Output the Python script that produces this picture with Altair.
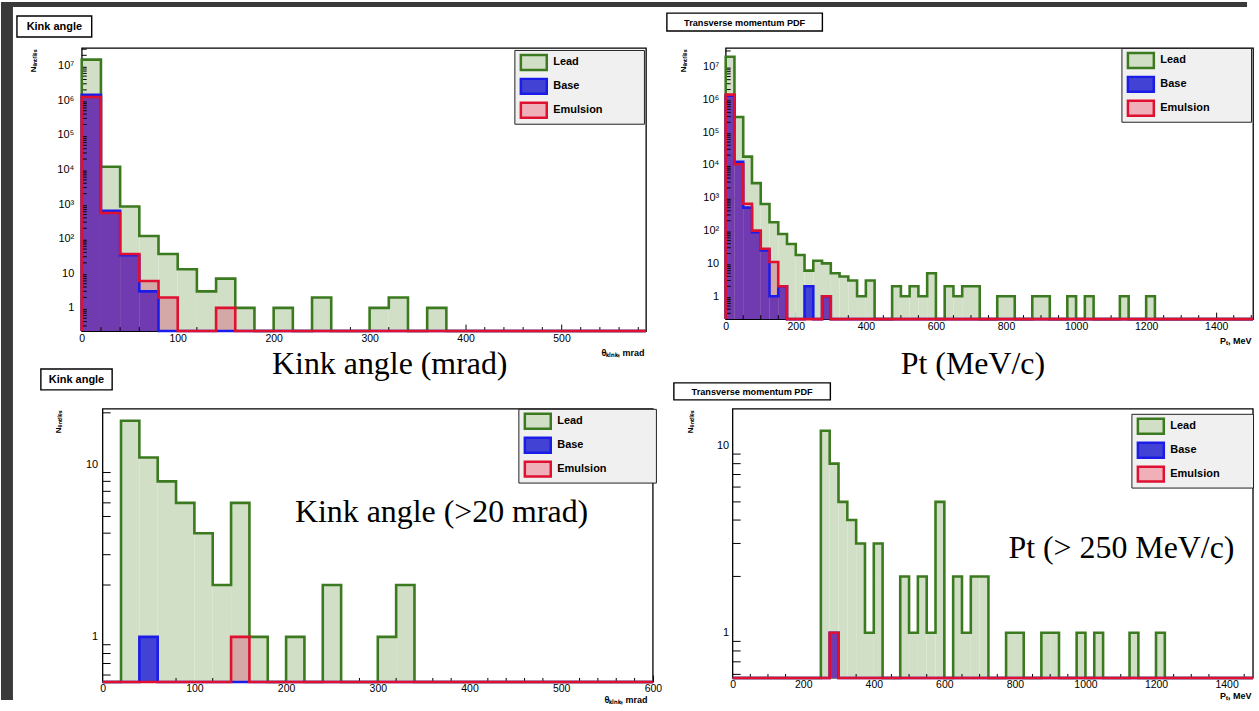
import math
import altair as alt
import pandas as pd

SERIES = ["Lead", "Base", "Emulsion"]

# ---------------- top-left: kink angle, 20 mrad bins from 0
kink_bin = 20
kink_lead = [1.5e7, 1.2e4, 850, 120, 36, 13, 3, 7, 1, 0, 1, 0, 2, 0, 0, 1, 2, 0, 1]
kink_base = [1.45e6, 640, 33, 3]
kink_emul = [1.25e6, 550, 36, 6, 2, 0, 0, 1]

# ---------------- top-right: transverse momentum, 25 MeV bins from 0
pt_bin = 25
pt_lead = [2.0e7, 2.9e5, 1.8e4, 2.8e3, 650, 180, 79, 39, 18, 6, 12, 10, 5, 4, 3, 1, 3,
           0, 0, 2, 1, 2, 1, 5, 0, 2, 1, 2, 2, 0, 0, 1, 1, 0, 0, 1, 1, 0, 0, 1, 0, 1,
           0, 0, 0, 1, 0, 0, 1]
pt_base = [1.3e6, 1.25e4, 500, 90, 25, 1, 2, 0, 0, 2, 0, 1]
pt_emul = [1.4e6, 1.05e4, 660, 100, 28, 11, 2, 0, 0, 0, 0, 1]

# ---------------- bottom-left: kink angle > 20 mrad
kcut_lead = [0, 18, 11, 8, 6, 4, 2, 6, 1, 0, 1, 0, 2, 0, 0, 1, 2]
kcut_base = [0, 0, 1]
kcut_emul = [0, 0, 0, 0, 0, 0, 0, 1]

# ---------------- bottom-right: Pt > 250 MeV/c
ptcut_lead = [0, 0, 0, 0, 0, 0, 0, 0, 0, 0, 12, 8, 5, 4, 3, 1, 3, 0, 0, 2, 1, 2, 1, 5,
              0, 2, 1, 2, 2, 0, 0, 1, 1, 0, 0, 1, 1, 0, 0, 1, 0, 1, 0, 0, 0, 1, 0, 0, 1]
ptcut_base = [0, 0, 0, 0, 0, 0, 0, 0, 0, 0, 0, 1]
ptcut_emul = [0, 0, 0, 0, 0, 0, 0, 0, 0, 0, 0, 1]

kink_ticks = [0, 100, 200, 300, 400, 500]
kcut_ticks = [0, 100, 200, 300, 400, 500, 600]
pt_ticks = [0, 200, 400, 600, 800, 1000, 1200, 1400]
decades_full = [1, 10, 100, 1e3, 1e4, 1e5, 1e6, 1e7]
decades_cut = [1, 10]
minor_mult = [2, 3, 4, 5, 6, 7, 8, 9]

SANS = "Liberation Sans, Arial, sans-serif"
SERIF = "Liberation Serif, Times New Roman, serif"
DARK = "#3a3a3a"
FILL = {"Lead": "#d2dfc7", "Base": "#4242d4", "Emulsion": "#dc2a5c"}
FILL_OP = {"Lead": 1.0, "Base": 1.0, "Emulsion": 0.30}
LINE = {"Lead": "#3c7a20", "Base": "#1c1ce8", "Emulsion": "#df1030"}
LEG_FILL = ["#d2dfc7", "#4242d4", "#efb0ba"]
SWATCH = "M-1.3,-0.75H1.3V0.75H-1.3Z"
SUP = str.maketrans("0123456789", "⁰¹²³⁴⁵⁶⁷⁸⁹")
PAD_CHAR = "\u2800"  # blank (non-whitespace) glyph used to widen the legend box


def decade_expr(vals):
    expr = "''"
    for v in sorted(vals, reverse=True):
        n = round(math.log10(v))
        lab = "1" if n == 0 else ("10" if n == 1 else "10" + str(n).translate(SUP))
        expr = f"datum.value < {v * 3} ? '{lab}' : ({expr})"
    return expr


def make_legend(x, y, nsp):
    return alt.Legend(
        orient="none", legendX=x, legendY=y, title=None, direction="vertical",
        fillColor="#f0f0f0", strokeColor="#222222", padding=1, rowPadding=-6,
        symbolOffset=7, labelOffset=8, symbolType=SWATCH, symbolSize=400,
        symbolStrokeWidth=2.5, labelFont=SANS, labelFontSize=11,
        labelFontWeight="bold", labelColor="black", labelLimit=300,
        labelExpr="datum.label + '" + PAD_CHAR * nsp + "'",
    )


def panel(counts, bw, xdom, x0px, ydom, w, h, xticks, xminor_step, yticks, ytick, yminor_len,
          ylabpad, ytitle_x, xtitle, xtitle_dx, xtitle_y, title, tbox, tfs, big, big_xy,
          leg_xy, nsp, frame_mark):
    bars, lines = [], []
    for s, cs in zip(SERIES, counts):
        lines.append(dict(s=s, o=0, lo=0, v=0))
        for i, c in enumerate(cs):
            lo = i * bw
            if c > 0:
                bars.append(dict(s=s, lo=lo, hi=lo + bw, v=c))
            lines.append(dict(s=s, o=i + 1, lo=lo, v=c))
        lines.append(dict(s=s, o=len(cs) + 1, lo=len(cs) * bw, v=0))
        lines.append(dict(s=s, o=len(cs) + 2, lo=xdom[1], v=0))
    bars_df = pd.DataFrame(bars)
    lines_df = pd.DataFrame(lines)
    xminor_df = pd.DataFrame({"t": [t for t in range(0, int(xdom[1]) + 1, xminor_step)
                                    if t not in xticks]})
    yminor_df = pd.DataFrame({"t": [m * d for d in yticks + [yticks[0] / 10] for m in minor_mult
                                    if ydom[0] < m * d < ydom[1]]})

    xs = alt.Scale(domain=list(xdom), nice=False, zero=False)
    ys = alt.Scale(type="log", domain=list(ydom), nice=False, clamp=True)
    xtick = 7
    xaxis = alt.Axis(
        orient="bottom", values=xticks, format="d", labelFont=SANS, labelFontSize=10.5,
        labelColor="black", labelPadding=2, labelFlush=False, labelOverlap=False,
        tickSize=xtick, tickColor="black", tickWidth=1, offset=-xtick, domain=False,
        grid=False, title=xtitle, titleFont=SANS, titleFontSize=9, titleFontWeight="bold",
        titleColor="black", titleAlign="right", titleBaseline="middle",
        titleX=w - xtitle_dx, titleY=xtitle_y,
    )
    yoff = x0px + ytick
    yaxis = alt.Axis(
        orient="left", values=yticks, labelExpr=decade_expr(yticks), labelFont=SANS,
        labelFontSize=11, labelColor="black", labelPadding=ylabpad, labelOverlap=False,
        tickSize=ytick, tickColor="black", tickWidth=1, offset=-yoff, domain=False,
        grid=False, title="Nₑₙₜᵣᵢₑₛ", titleFont=SANS, titleFontSize=8,
        titleFontWeight="bold", titleColor="black", titleAngle=270, titleAlign="right",
        titleBaseline="middle", titleX=ytitle_x - yoff, titleY=2,
    )

    def X(field):
        return alt.X(field, scale=xs, axis=xaxis)

    def Y(field):
        return alt.Y(field, scale=ys, axis=yaxis)

    layers = []
    if frame_mark:
        frame_df = pd.DataFrame({"a": [xdom[1]]})
        layers.append(
            alt.Chart(frame_df).mark_rect(fill="white", stroke="black", strokeWidth=1.3).encode(
                x=alt.X(datum=0, scale=xs, axis=xaxis), x2=alt.datum(xdom[1]),
                y=alt.Y(datum=ydom[1], scale=ys, axis=yaxis), y2=alt.datum(ydom[0]),
            )
        )
    for s in SERIES:
        layers.append(
            alt.Chart(bars_df).transform_filter(alt.datum.s == s)
            .mark_rect(fill=FILL[s], fillOpacity=FILL_OP[s])
            .encode(x=X("lo:Q"), x2="hi:Q", y=Y("v:Q"), y2=alt.datum(ydom[0]))
        )
    # minor ticks (ROOT style, pointing inward)
    layers.append(
        alt.Chart(xminor_df).mark_rule(color="black", strokeWidth=1).encode(
            x=X("t:Q"), y=alt.value(h), y2=alt.value(h - 4))
    )
    layers.append(
        alt.Chart(yminor_df).mark_rule(color="black", strokeWidth=1).encode(
            y=Y("t:Q"), x=alt.value(x0px), x2=alt.value(x0px + yminor_len))
    )
    for s in SERIES:
        layers.append(
            alt.Chart(lines_df).transform_filter(alt.datum.s == s)
            .transform_calculate(yv=f"max(datum.v, {ydom[0]})")
            .mark_line(interpolate="step-after", color=LINE[s], strokeWidth=2.6)
            .encode(x=X("lo:Q"), y=Y("yv:Q"), order="o:Q")
        )
    leg = make_legend(leg_xy[0], leg_xy[1], nsp)
    layers.append(
        alt.Chart(alt.Data(values=[])).mark_point(
            shape=SWATCH, filled=True, size=400, strokeWidth=2.5, opacity=1
        ).encode(
            fill=alt.Fill("s:N", scale=alt.Scale(domain=SERIES, range=LEG_FILL), legend=leg),
            stroke=alt.Stroke("s:N", scale=alt.Scale(domain=SERIES, range=[LINE[s] for s in SERIES]), legend=leg),
        )
    )
    one = pd.DataFrame({"t": [title]})
    layers.append(
        alt.Chart(one).mark_rect(fill="white", stroke="black", strokeWidth=1.4).encode(
            x=alt.value(tbox[0]), x2=alt.value(tbox[1]), y=alt.value(tbox[2]), y2=alt.value(tbox[3])
        )
    )
    layers.append(
        alt.Chart(one).mark_text(font=SANS, fontSize=tfs, fontWeight="bold", color="black").encode(
            x=alt.value((tbox[0] + tbox[1]) / 2), y=alt.value((tbox[2] + tbox[3]) / 2 + 0.5), text="t:N"
        )
    )
    big_df = pd.DataFrame({"t": [big]})
    layers.append(
        alt.Chart(big_df).mark_text(font=SERIF, fontSize=32, color="black").encode(
            x=alt.value(big_xy[0]), y=alt.value(big_xy[1]), text="t:N"
        )
    )
    view = alt.ViewBackground(stroke="transparent") if frame_mark else alt.ViewBackground(stroke="black", strokeWidth=1.3)
    return alt.layer(*layers).properties(width=w, height=h, view=view)


p1 = panel([kink_lead, kink_base, kink_emul], kink_bin, (0, 588), 0, (0.213, 3.26e7), 566, 284,
           kink_ticks, 20, decades_full, 9, 5, 8, -48, "θₖᵢₙₖ, mrad", 2, 29, "Kink angle",
           (-65, 10, -32, -11), 11, "Kink angle (mrad)", (309, 317), (434, 2), 5, False)
p2 = panel([pt_lead, pt_base, pt_emul], pt_bin, (0, 1505), 0, (0.2, 3.7e7), 529, 272,
           pt_ticks, 50, decades_full, 9, 5, 7, -42, "Pₜ, MeV", 2, 28, "Transverse momentum PDF",
           (-59, 97, -35, -17), 9.2, "Pt (MeV/c)", (248, 317), (397, 0), 5, False)
p3 = panel([kcut_lead, kcut_base, kcut_emul], kink_bin, (-22.83, 600), 21, (0.547, 21.1), 573, 274,
           kcut_ticks, 20, decades_cut, 17, 8, 5, -23, "θₖᵢₙₖ, mrad", 6, 25, "Kink angle",
           (-41, 30.5, -40, -19), 11, "Kink angle (>20 mrad)", (361, 104), (438, 0), 6, True)
p4 = panel([ptcut_lead, ptcut_base, ptcut_emul], pt_bin, (-19.8, 1475), 7, (0.574, 15.7), 529, 270,
           pt_ticks, 50, decades_cut, 17, 8, 4, -35, "Pₜ, MeV", 2, 25, "Transverse momentum PDF",
           (-52, 105, -26, -9), 9.2, "Pt (> 250 MeV/c)", (397, 140), (407, 5), 4, True)

strip = pd.DataFrame({"k": [0]})
spacer_a = alt.layer(
    alt.Chart(strip).mark_rect(color=DARK).encode(
        x=alt.value(0), x2=alt.value(12), y=alt.value(-46), y2=alt.value(654)),
    alt.Chart(strip).mark_rect(color=DARK).encode(
        x=alt.value(0), x2=alt.value(1250), y=alt.value(-46), y2=alt.value(-41)),
).properties(width=8, height=284)
spacer_b = alt.Chart(strip).mark_rect(opacity=0).encode(
    x=alt.value(0), x2=alt.value(1), y=alt.value(0), y2=alt.value(1)
).properties(width=8, height=274)

chart = alt.concat(
    spacer_a, p1, p2, spacer_b, p3, p4,
    columns=3, spacing={"row": 78, "column": 73}, bounds="flush", align="each",
).resolve_scale(fill="independent", stroke="independent").properties(
    padding=0, background="white"
).configure_view(stroke="transparent")

chart.save("out.html", embed_options={"renderer": "svg", "actions": False})
